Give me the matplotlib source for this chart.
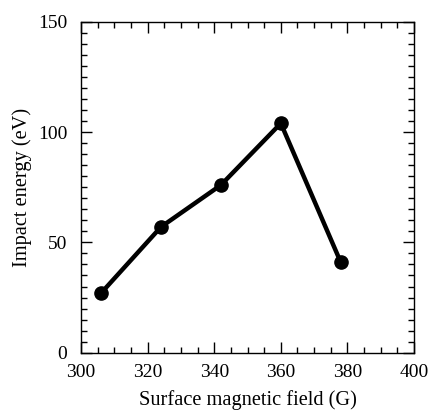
import matplotlib
matplotlib.use("Agg")
import matplotlib.pyplot as plt
from matplotlib.ticker import MultipleLocator

field = [306, 324, 342, 360, 378]
energy = [27, 57, 76, 104, 41]
xticks = [300, 320, 340, 360, 380, 400]
yticks = [0, 50, 100, 150]

plt.rcParams['font.family'] = ['Liberation Serif', 'DejaVu Serif']

fig = plt.figure(figsize=(4.29, 4.12), dpi=100)
ax = fig.add_axes([0.189, 0.144, 0.776, 0.803])
ax.plot(field, energy, color='black', lw=3.2, marker='o', ms=9.5)
ax.set_xlim(300, 400)
ax.set_ylim(0, 150)
ax.set_xticks(xticks)
ax.set_yticks(yticks)
ax.xaxis.set_minor_locator(MultipleLocator(5))
ax.yaxis.set_minor_locator(MultipleLocator(5))
ax.tick_params(which='both', direction='in', top=True, right=True, labelsize=14, width=1)
ax.tick_params(axis='x', which='major', pad=8)
ax.tick_params(axis='y', which='major', pad=10)
ax.tick_params(which='major', length=8)
ax.tick_params(which='minor', length=4)
for s in ax.spines.values():
    s.set_linewidth(1)
ax.set_xlabel('Surface magnetic field (G)', fontsize=14.7, labelpad=7)
ax.set_ylabel('Impact energy (eV)', fontsize=14.7, labelpad=4)
fig.savefig('out.png', dpi=100)
